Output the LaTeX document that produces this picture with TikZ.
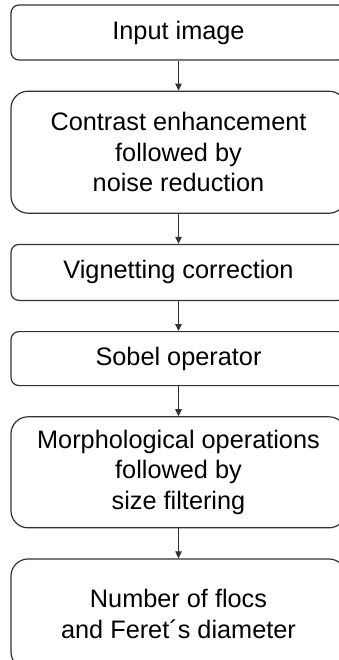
\documentclass[tikz,border=0pt]{standalone}
\usepackage{fontspec}
\setmainfont{Liberation Sans}
\usepackage{tikz}
\usetikzlibrary{arrows.meta, positioning}
\definecolor{flowline}{HTML}{333333}

\begin{document}
\begin{tikzpicture}[node distance=30pt,
  stage/.style={rectangle, rounded corners=8pt, draw=flowline, line width=1.2pt,
                minimum width=335pt, minimum height=55pt, align=center, inner sep=0pt,
                font=\fontsize{25.3}{30.4}\selectfont},
  tall/.style={stage, rounded corners=17pt},
  arr/.style={-{Triangle[length=7pt, width=6.5pt]}, line width=1pt, flowline}]
  \useasboundingbox (0pt,0pt) rectangle (339pt,-660pt);
  \clip (0pt,0pt) rectangle (339pt,-660pt);
  \node[stage] (input) at (178.5pt,-32.5pt) {Input image};
  \node[tall, minimum height=122pt, below=of input] (contrast)
       {Contrast enhancement\\followed by\\noise reduction};
  \node[stage, minimum height=56pt, below=of contrast] (vignet) {Vignetting correction};
  \node[stage, minimum height=54pt, below=of vignet] (sobel) {Sobel operator};
  \node[tall, minimum height=111pt, below=of sobel] (morph)
       {Morphological operations\\followed by\\size filtering};
  \node[tall, minimum height=110pt, below=of morph] (result)
       {Number of flocs\\and Feret´s diameter};
  \draw[arr] (input) -- (contrast);
  \draw[arr] (contrast) -- (vignet);
  \draw[arr] (vignet) -- (sobel);
  \draw[arr] (sobel) -- (morph);
  \draw[arr] (morph) -- (result);
\end{tikzpicture}
\end{document}
